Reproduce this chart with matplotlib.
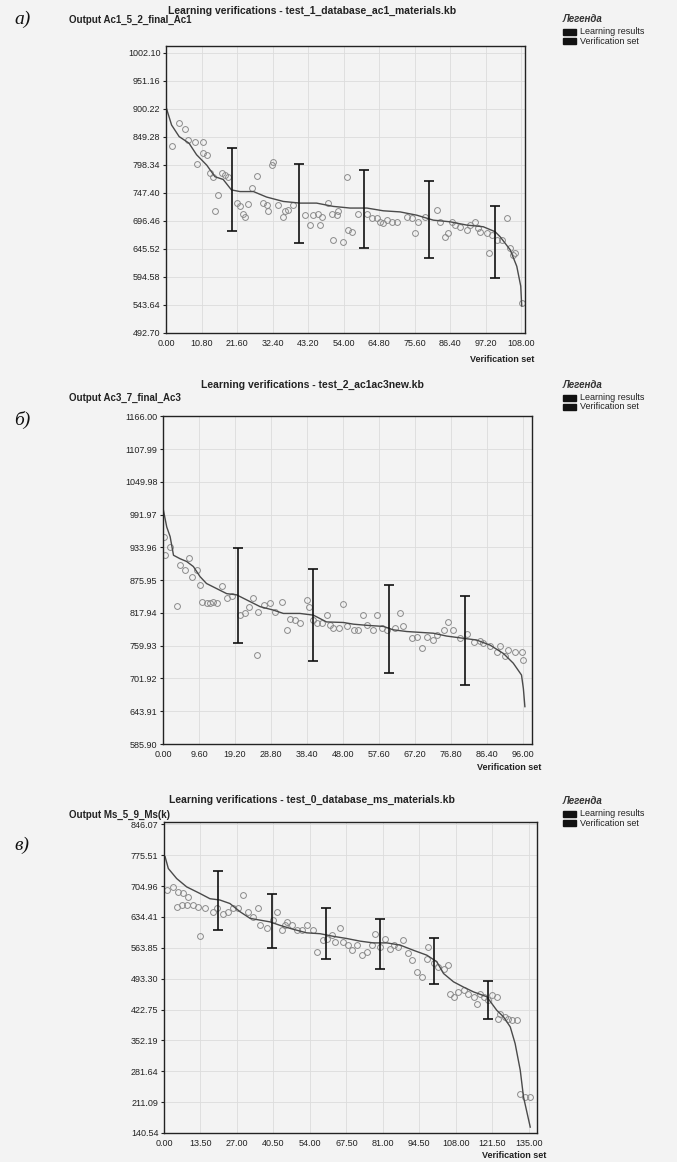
import numpy as np
import matplotlib
matplotlib.use('Agg')
import matplotlib.pyplot as plt

plt.rcParams['font.family'] = ['Liberation Sans', 'DejaVu Sans']

W, H = 677, 1162
BG = '#f3f3f3'

# ── panel a) ─────────────────────────────────────────────────────────
a_title = "Learning verifications - test_1_database_ac1_materials.kb"
a_output = "Output Ac1_5_2_final_Ac1"
a_xticks = [0.00, 10.80, 21.60, 32.40, 43.20, 54.00, 64.80, 75.60, 86.40, 97.20, 108.00]
a_yticks = [492.70, 543.64, 594.58, 645.52, 696.46, 747.40, 798.34, 849.28, 900.22, 951.16, 1002.10]
a_line_x = [0.0, 1.7, 4.0, 7.0, 9.3, 12.4, 14.9, 17.4, 19.9, 22.5, 26.6, 30.6, 35.7, 40.8,
            45.8, 50.9, 56.0, 61.1, 66.1, 71.2, 76.3, 81.3, 86.4, 91.5, 96.5, 100.1, 101.6,
            104.7, 106.7, 107.9, 108.2]
a_line_y = [904, 871, 850, 838, 817, 798, 777, 772, 753, 750, 750, 740, 732, 729, 729, 723,
            720, 720, 715, 713, 707, 698, 695, 689, 686, 677, 668, 644, 614, 578, 542]
a_pts_x = [1.7, 4.0, 5.8, 6.8, 8.8, 11.4, 9.3, 11.4, 12.4, 13.4, 14.4, 14.9, 15.9, 16.9, 17.9,
           19.0, 21.5, 22.5, 23.5, 24.0, 25.0, 26.1, 27.6, 29.6, 30.6, 31.1, 32.1, 32.6, 34.2,
           35.7, 36.2, 37.2, 38.7, 42.3, 43.8, 44.8, 46.3, 46.8, 47.4, 49.4, 50.4, 50.9, 51.9,
           52.4, 53.9, 55.0, 55.5, 56.5, 58.5, 61.0, 62.6, 64.1, 65.1, 66.1, 67.1, 68.6, 70.2,
           73.2, 74.7, 75.7, 76.8, 78.8, 82.3, 83.4, 84.9, 85.9, 86.9, 87.9, 89.4, 91.5, 92.5,
           94.0, 95.0, 95.5, 97.6, 98.1, 99.1, 100.6, 102.1, 103.6, 104.7, 105.7, 106.2, 108.2]
a_pts_y = [833, 874, 863, 844, 841, 841, 800, 820, 817, 783, 777, 714, 744, 783, 780, 777,
           729, 723, 710, 704, 727, 756, 778, 729, 726, 714, 798, 804, 726, 704, 714, 716,
           726, 707, 689, 707, 710, 689, 704, 729, 710, 662, 707, 714, 659, 777, 680, 677,
           710, 710, 701, 701, 695, 692, 698, 695, 695, 704, 701, 674, 695, 704, 716, 695,
           668, 674, 695, 689, 686, 680, 689, 695, 683, 677, 674, 638, 671, 662, 662, 701,
           647, 635, 638, 547]
a_bar_x = [20.1, 40.4, 60.2, 80.0, 100.2]
a_bar_lo = [679, 656, 647, 629, 593]
a_bar_hi = [829, 800, 790, 770, 724]

# ── panel б) ─────────────────────────────────────────────────────────
b_title = "Learning verifications - test_2_ac1ac3new.kb"
b_output = "Output Ac3_7_final_Ac3"
b_xticks = [0.00, 9.60, 19.20, 28.80, 38.40, 48.00, 57.60, 67.20, 76.80, 86.40, 96.00]
b_yticks = [585.90, 643.91, 701.92, 759.93, 817.94, 875.95, 933.96, 991.97, 1049.98, 1107.99, 1166.00]
b_line_x = [0.1, 1.0, 1.9, 2.8, 4.5, 6.3, 8.1, 9.9, 11.6, 14.3, 17.0, 19.6, 22.3, 25.9, 29.4,
            32.1, 36.5, 40.1, 43.6, 48.1, 50.8, 54.3, 58.8, 61.4, 65.0, 72.1, 75.6, 80.1, 83.6,
            87.2, 90.8, 93.4, 95.6, 96.1, 96.5]
b_line_y = [1000, 970, 953, 920, 914, 909, 900, 882, 870, 861, 852, 850, 841, 829, 823, 817,
            817, 814, 802, 801, 798, 796, 794, 788, 785, 782, 777, 773, 770, 761, 746, 729,
            708, 684, 652]
b_pts_x = [0.3, 0.5, 1.9, 3.6, 4.5, 5.9, 6.8, 7.6, 9.0, 9.9, 10.3, 11.6, 12.5, 13.4, 14.3,
           15.6, 17.0, 18.3, 20.5, 21.9, 22.8, 24.1, 25.0, 25.4, 26.8, 28.5, 29.9, 31.6, 33.0,
           33.9, 35.2, 36.5, 38.3, 38.8, 40.1, 41.0, 42.3, 43.6, 44.5, 45.4, 46.8, 48.1, 49.0,
           50.8, 52.1, 53.4, 54.3, 56.1, 57.0, 58.3, 59.6, 61.9, 63.2, 64.1, 66.3, 67.6, 69.0,
           70.3, 72.1, 73.0, 74.8, 76.1, 77.4, 79.2, 81.0, 82.8, 84.5, 85.4, 87.2, 89.0, 89.9,
           91.2, 92.1, 93.9, 95.6, 96.1]
b_pts_y = [953, 920, 935, 830, 903, 894, 916, 882, 894, 867, 838, 835, 835, 838, 835, 866,
           844, 847, 814, 817, 829, 844, 743, 820, 832, 835, 820, 838, 788, 808, 805, 800,
           841, 829, 805, 800, 800, 814, 797, 791, 791, 834, 794, 788, 788, 814, 797, 788,
           814, 791, 788, 791, 817, 794, 773, 776, 755, 776, 770, 779, 788, 801, 788, 773,
           781, 767, 769, 764, 759, 749, 759, 741, 752, 749, 749, 735]
b_bar_x = [19.9, 40.1, 60.3, 80.4]
b_bar_lo = [764, 732, 711, 690]
b_bar_hi = [932, 895, 867, 847]

# ── panel в) ─────────────────────────────────────────────────────────
c_title = "Learning verifications - test_0_database_ms_materials.kb"
c_output = "Output Ms_5_9_Ms(k)"
c_xticks = [0.00, 13.50, 27.00, 40.50, 54.00, 67.50, 81.00, 94.50, 108.00, 121.50, 135.00]
c_yticks = [140.54, 211.09, 281.64, 352.19, 422.75, 493.30, 563.85, 634.41, 704.96, 775.51, 846.07]
c_line_x = [0.4, 1.6, 4.7, 8.4, 13.3, 17.0, 20.7, 24.4, 28.2, 31.9, 35.6, 39.3, 43.0, 47.9,
            52.8, 57.8, 62.7, 67.7, 72.6, 77.5, 82.5, 87.4, 92.4, 97.3, 101.0, 103.5, 107.2,
            110.9, 114.6, 119.5, 123.2, 125.7, 128.2, 130.0, 131.9, 133.1, 135.6]
c_line_y = [772, 745, 722, 703, 688, 676, 673, 665, 646, 631, 627, 623, 615, 606, 598, 596,
            590, 585, 579, 575, 575, 570, 558, 547, 532, 505, 486, 474, 463, 452, 421, 406,
            383, 345, 284, 223, 154]
c_pts_x = [1.0, 3.5, 5.3, 7.2, 9.0, 4.7, 6.5, 8.4, 10.9, 12.7, 15.2, 13.3, 18.3, 19.5, 22.0,
           23.8, 25.7, 27.5, 29.4, 31.2, 33.1, 34.9, 35.6, 38.0, 40.5, 41.7, 43.6, 44.8, 45.4,
           47.3, 49.1, 51.0, 52.8, 55.3, 56.5, 59.0, 60.3, 62.1, 63.3, 65.2, 66.4, 68.3, 69.5,
           71.4, 73.2, 75.1, 76.9, 78.2, 80.0, 81.9, 83.7, 85.0, 86.8, 88.6, 90.5, 91.7, 93.6,
           95.4, 97.3, 97.9, 99.8, 101.6, 103.5, 105.3, 105.9, 107.2, 109.0, 110.9, 112.7,
           114.6, 115.8, 117.0, 118.3, 120.1, 121.4, 123.2, 123.8, 124.4, 126.3, 127.5, 128.8,
           130.6, 131.9, 133.7, 135.6]
c_pts_y = [695, 703, 692, 688, 680, 657, 661, 661, 661, 657, 654, 590, 646, 654, 642, 646,
           654, 654, 684, 646, 634, 654, 615, 608, 627, 646, 604, 615, 623, 615, 604, 604,
           615, 604, 554, 581, 585, 593, 577, 608, 577, 570, 558, 570, 547, 554, 570, 596,
           566, 585, 562, 570, 566, 581, 551, 535, 509, 497, 539, 566, 528, 520, 516, 524,
           459, 452, 463, 467, 459, 452, 436, 459, 452, 444, 455, 452, 402, 413, 406, 402,
           398, 398, 230, 223, 223]
c_bar_x = [20.1, 40.1, 60.0, 79.8, 99.8, 119.9]
c_bar_lo = [604, 564, 538, 516, 482, 402]
c_bar_hi = [740, 686, 654, 629, 586, 488]

panels = [
    dict(tag="a)", title=a_title, output=a_output, xticks=a_xticks, yticks=a_yticks,
         lx=a_line_x, ly=a_line_y, px_=a_pts_x, py_=a_pts_y,
         bx=a_bar_x, blo=a_bar_lo, bhi=a_bar_hi,
         box=(166, 46, 525, 333), xlim=(0, 109.2), ylim=(492.70, 1014.8),
         title_y=11, out_y=20, tag_y=19, leg_y=19, vs_y=360),
    dict(tag="б)", title=b_title, output=b_output, xticks=b_xticks, yticks=b_yticks,
         lx=b_line_x, ly=b_line_y, px_=b_pts_x, py_=b_pts_y,
         bx=b_bar_x, blo=b_bar_lo, bhi=b_bar_hi,
         box=(163, 416, 532, 744), xlim=(0, 98.4), ylim=(585.90, 1166.5),
         title_y=385, out_y=398, tag_y=420, leg_y=385, vs_y=768),
    dict(tag="в)", title=c_title, output=c_output, xticks=c_xticks, yticks=c_yticks,
         lx=c_line_x, ly=c_line_y, px_=c_pts_x, py_=c_pts_y,
         bx=c_bar_x, blo=c_bar_lo, bhi=c_bar_hi,
         box=(164, 822, 537, 1133), xlim=(0, 138.1), ylim=(140.54, 851.3),
         title_y=800, out_y=815, tag_y=845, leg_y=801, vs_y=1155),
]


def fx(x):
    return x / W


def fy(y):
    return 1 - y / H


fig = plt.figure(figsize=(W / 100, H / 100), dpi=100, facecolor=BG)

for p in panels:
    x0, y0, x1, y1 = p['box']
    ax = fig.add_axes([fx(x0), fy(y1), (x1 - x0) / W, (y1 - y0) / H])
    ax.set_facecolor(BG)
    ax.set_xlim(*p['xlim'])
    ax.set_ylim(*p['ylim'])
    ax.set_xticks(p['xticks'])
    ax.set_yticks(p['yticks'])
    ax.set_xticklabels([f"{v:.2f}" for v in p['xticks']])
    ax.set_yticklabels([f"{v:.2f}" for v in p['yticks']])
    ax.tick_params(axis='x', length=0, labelsize=6.5, colors='#222', pad=4)
    ax.tick_params(axis='y', length=2, labelsize=6.5, colors='#222', pad=2)
    ax.grid(True, color='#dcdcdc', lw=0.6)
    ax.set_axisbelow(True)
    for s in ax.spines.values():
        s.set_color('#222')
        s.set_linewidth(1.0)

    ax.plot(p['px_'], p['py_'], 'o', ms=4.2, mfc='none', mec='#8a8a8a', mew=0.7)
    ax.plot(p['lx'], p['ly'], color='#4a4a4a', lw=1.0)
    lo = np.array(p['blo'], dtype=float)
    hi = np.array(p['bhi'], dtype=float)
    mid = (lo + hi) / 2
    ax.errorbar(p['bx'], mid, yerr=(hi - lo) / 2, fmt='none', ecolor='#111',
                elinewidth=1.2, capsize=3.5, capthick=1.2)

    fig.text(fx(312), fy(p['title_y']), p['title'], ha='center', va='center',
             fontsize=7.5, fontweight='bold', color='#222')
    fig.text(fx(69), fy(p['out_y']), p['output'], ha='left', va='center',
             fontsize=7, fontweight='bold', color='#222')
    fig.text(fx(14), fy(p['tag_y']), p['tag'], ha='left', va='center',
             fontsize=14, style='italic', family='Liberation Serif', color='#111')
    fig.text(fx(x1 - 55), fy(p['vs_y']), "Verification set", ha='left', va='center',
             fontsize=6.5, fontweight='bold', color='#222')

    # legend block
    fig.text(fx(563), fy(p['leg_y']), "Легенда", ha='left', va='center',
             fontsize=7, fontweight='bold', style='italic', color='#333')
    for k, lbl in enumerate(["Learning results", "Verification set"]):
        yy = p['leg_y'] + 13 + k * 9
        fig.patches.append(plt.Rectangle((fx(563), fy(yy + 3)), 13 / W, 6 / H,
                                         transform=fig.transFigure, color='#111'))
        fig.text(fx(580), fy(yy), lbl, ha='left', va='center', fontsize=6.5, color='#222')

fig.savefig("out.png", dpi=100, facecolor=BG)
